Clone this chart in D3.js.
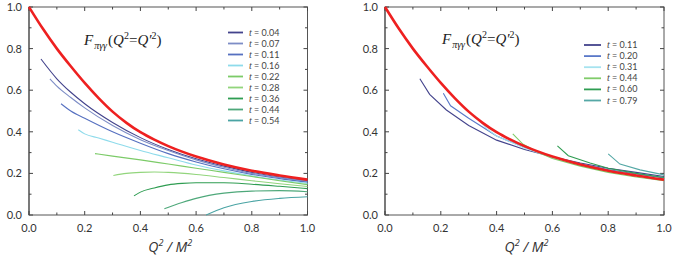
<!DOCTYPE html>
<html>
<head>
<meta charset="utf-8">
<script src="https://cdn.jsdelivr.net/npm/d3@7"></script>
<style>
  body { margin: 0; background: #fff; }
  svg { display: block; }
  .tick-label { font-family: "Lato", "Open Sans", sans-serif; font-size: 11px; fill: #333; }
  .leg-label { font-family: "Lato", "Open Sans", sans-serif; font-size: 9px; fill: #444; }
</style>
</head>
<body>
<svg id="chart" width="675" height="262"></svg>
<script>
// ---- data ----
const xTicks = [0, 0.2, 0.4, 0.6, 0.8, 1.0];
const yTicks = [0, 0.2, 0.4, 0.6, 0.8, 1.0];

// red reference curve, both panels
const redCurve = [[0,1.0],[0.05,0.895],[0.1,0.80],[0.15,0.715],[0.2,0.635],[0.25,0.562],[0.3,0.497],
  [0.35,0.443],[0.4,0.398],[0.45,0.362],[0.5,0.331],[0.6,0.281],[0.7,0.243],[0.8,0.213],[0.9,0.19],[1.0,0.17]];

// left panel
const leftLabels = ["0.04","0.07","0.11","0.16","0.22","0.28","0.36","0.44","0.54"];
const leftColors = ["#43438c","#7d8dc6","#5670c0","#8edbeb","#7ccb68","#92d57c","#2f9d52","#4ea87a","#4aa4a4"];
const leftSeries = [
  [[0.043,0.75],[0.1,0.655],[0.15,0.59],[0.2,0.535],[0.3,0.445],[0.4,0.372],[0.5,0.315],[0.6,0.27],[0.7,0.235],[0.8,0.205],[0.9,0.182],[1.0,0.165]],
  [[0.075,0.655],[0.1,0.62],[0.15,0.565],[0.2,0.515],[0.3,0.43],[0.4,0.362],[0.5,0.31],[0.6,0.265],[0.7,0.23],[0.8,0.2],[0.9,0.18],[1.0,0.162]],
  [[0.115,0.535],[0.15,0.5],[0.2,0.465],[0.3,0.4],[0.4,0.345],[0.5,0.295],[0.6,0.255],[0.7,0.222],[0.8,0.195],[0.9,0.175],[1.0,0.158]],
  [[0.177,0.41],[0.2,0.39],[0.25,0.37],[0.3,0.35],[0.4,0.31],[0.5,0.275],[0.6,0.24],[0.7,0.212],[0.8,0.188],[0.9,0.168],[1.0,0.152]],
  [[0.237,0.295],[0.3,0.283],[0.4,0.265],[0.5,0.245],[0.6,0.225],[0.7,0.205],[0.8,0.185],[0.9,0.165],[1.0,0.146]],
  [[0.303,0.19],[0.35,0.2],[0.4,0.205],[0.45,0.207],[0.5,0.205],[0.6,0.195],[0.7,0.18],[0.8,0.165],[0.9,0.15],[1.0,0.137]],
  [[0.377,0.092],[0.4,0.11],[0.45,0.13],[0.5,0.145],[0.55,0.152],[0.6,0.155],[0.7,0.155],[0.8,0.148],[0.9,0.138],[1.0,0.127]],
  [[0.486,0.03],[0.55,0.06],[0.6,0.08],[0.7,0.105],[0.8,0.115],[0.9,0.117],[1.0,0.112]],
  [[0.636,0.0],[0.7,0.035],[0.8,0.065],[0.9,0.08],[1.0,0.088]]
];

// right panel
const rightLabels = ["0.11","0.20","0.31","0.44","0.60","0.79"];
const rightColors = ["#43438c","#5a78c8","#a6e3ef","#80cc6a","#2f9d52","#55a8a6"];
const rightSeries = [
  [[0.125,0.655],[0.16,0.58],[0.22,0.505],[0.3,0.43],[0.4,0.36],[0.5,0.315],[0.6,0.28],[0.7,0.25],[0.8,0.225],[0.9,0.205],[1.0,0.185]],
  [[0.209,0.585],[0.235,0.525],[0.3,0.465],[0.4,0.38],[0.5,0.324],[0.6,0.28],[0.7,0.245],[0.8,0.218],[0.9,0.197],[1.0,0.178]],
  [[0.32,0.48],[0.365,0.415],[0.4,0.38],[0.5,0.322],[0.6,0.275],[0.7,0.24],[0.8,0.21],[0.9,0.19],[1.0,0.172]],
  [[0.458,0.39],[0.495,0.34],[0.55,0.3],[0.6,0.272],[0.7,0.235],[0.8,0.205],[0.9,0.183],[1.0,0.165]],
  [[0.618,0.332],[0.657,0.285],[0.735,0.25],[0.8,0.225],[0.9,0.2],[1.0,0.18]],
  [[0.8,0.294],[0.842,0.245],[0.914,0.217],[1.0,0.193]]
];

const svg = d3.select('#chart');

function drawPanel(opts) {
  const x = d3.scaleLinear().domain([0, 1]).range([opts.x0, opts.x1]);
  const y = d3.scaleLinear().domain([0, 1]).range([215, 7]);
  const g = svg.append('g');

  // frame with inward ticks on all sides
  g.append('rect')
    .attr('x', x(0)).attr('y', y(1))
    .attr('width', x(1) - x(0)).attr('height', y(0) - y(1))
    .attr('fill', 'none').attr('stroke', '#555').attr('stroke-width', 1);
  g.append('line')
    .attr('x1', x(0)).attr('x2', x(0)).attr('y1', y(1)).attr('y2', y(0))
    .attr('stroke', '#666').attr('stroke-width', 1.4);

  const minor = d3.range(0, 1.01, 0.1);
  minor.forEach((v, i) => {
    const len = i % 2 === 0 ? 4 : 2.5;
    g.append('line').attr('x1', x(v)).attr('x2', x(v)).attr('y1', y(0)).attr('y2', y(0) - len).attr('stroke', '#444');
    g.append('line').attr('x1', x(v)).attr('x2', x(v)).attr('y1', y(1)).attr('y2', y(1) + len).attr('stroke', '#444');
    g.append('line').attr('y1', y(v)).attr('y2', y(v)).attr('x1', x(0)).attr('x2', x(0) + len).attr('stroke', '#444');
    g.append('line').attr('y1', y(v)).attr('y2', y(v)).attr('x1', x(1)).attr('x2', x(1) - len).attr('stroke', '#444');
  });

  g.selectAll('.xl').data(xTicks).enter().append('text')
    .attr('class', 'tick-label')
    .attr('x', d => x(d)).attr('y', 232)
    .attr('text-anchor', 'middle')
    .text(d => d3.format('.1f')(d));
  g.selectAll('.yl').data(yTicks).enter().append('text')
    .attr('class', 'tick-label')
    .attr('x', x(0) - 7).attr('y', d => y(d) + 4)
    .attr('text-anchor', 'end')
    .text(d => d3.format('.1f')(d));

  // x title
  const xt = g.append('text')
    .attr('x', (x(0) + x(1)) / 2 + 2).attr('y', 252)
    .attr('text-anchor', 'middle')
    .style('font-family', '"Open Sans", "DejaVu Sans", sans-serif')
    .style('font-size', '14px').style('font-style', 'italic').attr('fill', '#333');
  xt.append('tspan').text('Q');
  xt.append('tspan').attr('dy', -6).style('font-size', '9px').text('2');
  xt.append('tspan').attr('dy', 6).text(' / M');
  xt.append('tspan').attr('dy', -6).style('font-size', '9px').text('2');

  // curves
  const line = d3.line().x(d => x(d[0])).y(d => y(d[1])).curve(opts.curve);
  g.selectAll('.series').data(opts.series).enter().append('path')
    .attr('d', line).attr('fill', 'none')
    .attr('stroke', (d, i) => opts.colors[i]).attr('stroke-width', 1.1);
  g.append('path').datum(redCurve)
    .attr('d', d3.line().x(d => x(d[0])).y(d => y(d[1])).curve(d3.curveMonotoneX))
    .attr('fill', 'none').attr('stroke', '#ee2020').attr('stroke-width', 2.6);

  // formula label
  const ft = g.append('text')
    .attr('x', opts.fx).attr('y', opts.fy)
    .style('font-family', '"Liberation Serif", "DejaVu Serif", serif')
    .style('font-size', '15px').style('font-style', 'italic').attr('fill', '#222');
  ft.append('tspan').text('F');
  ft.append('tspan').attr('dx', 1).attr('dy', 4).style('font-size', '10px').text('πγγ');
  ft.append('tspan').attr('dx', 1).attr('dy', -4).style('font-style', 'normal').text('(');
  ft.append('tspan').text('Q');
  ft.append('tspan').attr('dy', -6).style('font-size', '10px').style('font-style', 'normal').text('2');
  ft.append('tspan').attr('dy', 6).style('font-style', 'normal').text('=');
  ft.append('tspan').text('Q\u2032');
  ft.append('tspan').attr('dy', -6).style('font-size', '10px').style('font-style', 'normal').text('2');
  ft.append('tspan').attr('dy', 6).style('font-style', 'normal').text(')');

  // legend
  const leg = g.append('g');
  opts.labels.forEach((lab, i) => {
    const ly = opts.ly + i * opts.lstep;
    leg.append('line')
      .attr('x1', opts.lx).attr('x2', opts.lx + opts.llen)
      .attr('y1', ly).attr('y2', ly)
      .attr('stroke', opts.colors[i]).attr('stroke-width', 1.8);
    const t = leg.append('text').attr('class', 'leg-label')
      .attr('x', opts.lx + opts.llen + 6).attr('y', ly + 3);
    t.append('tspan').style('font-family', '"Liberation Serif", serif').style('font-style', 'italic').style('font-size', '10px').text('t');
    t.append('tspan').text(' = ' + lab);
  });
}

drawPanel({
  x0: 29, x1: 307.5, series: leftSeries, colors: leftColors, labels: leftLabels,
  curve: d3.curveMonotoneX, fx: 84, fy: 45,
  lx: 228, llen: 15, ly: 32.5, lstep: 11
});
drawPanel({
  x0: 385, x1: 664, series: rightSeries, colors: rightColors, labels: rightLabels,
  curve: d3.curveLinear, fx: 442, fy: 44,
  lx: 584, llen: 17, ly: 45, lstep: 11.1
});
</script>
</body>
</html>
